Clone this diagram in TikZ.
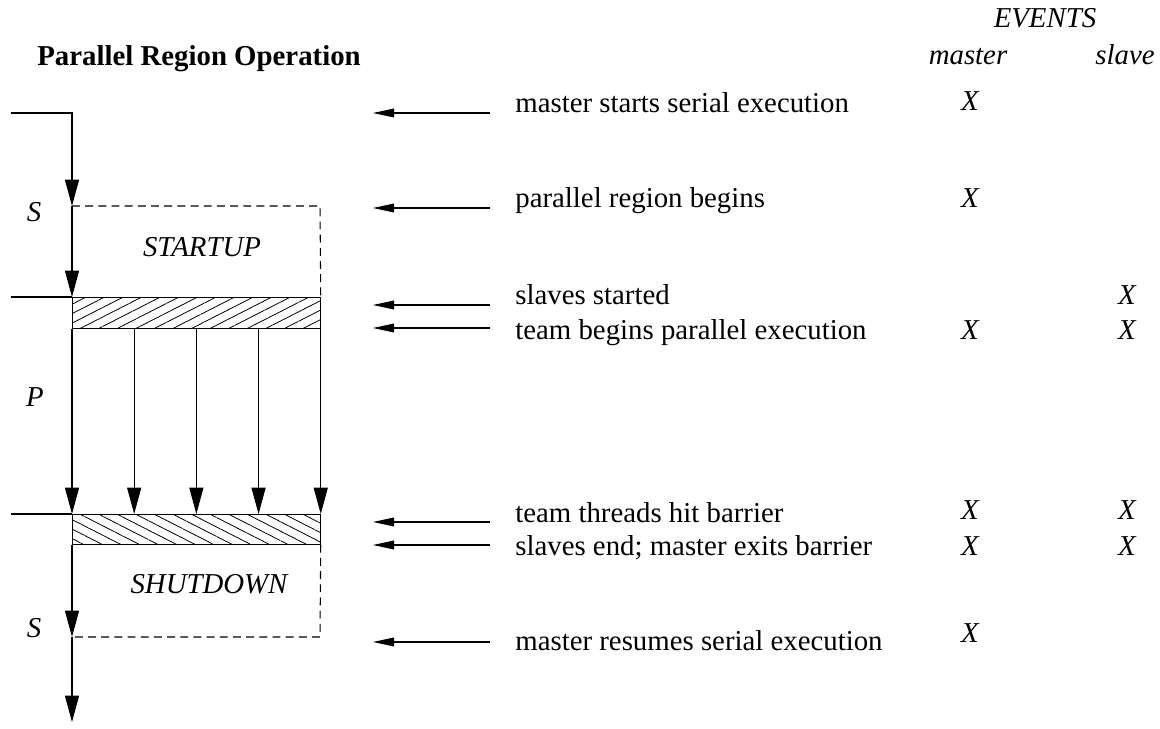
\documentclass[tikz,border=0pt]{standalone}
\usepackage{fontspec}
\setmainfont{Liberation Serif}
\usetikzlibrary{arrows.meta,patterns.meta,calc}

\begin{document}
\begin{tikzpicture}[x=0.02cm, y=-0.02cm,
line/.style={line width=0.6pt},
flow/.style={line width=0.6pt, -{Triangle[length=15pt,width=8pt]}},
event/.style={line width=0.6pt, -{Triangle[length=12pt,width=5pt]}},
region/.style={line width=0.6pt, dash pattern=on 4.5pt off 3pt},
upbar/.style={draw, line width=0.6pt, anchor=north west, inner sep=0pt, minimum width=4.96cm, minimum height=0.62cm, pattern={Lines[angle=27,distance=4.8pt,line width=0.45pt]}},
downbar/.style={draw, line width=0.6pt, anchor=north west, inner sep=0pt, minimum width=4.96cm, minimum height=0.6cm, pattern={Lines[angle=-27,distance=4.8pt,line width=0.45pt]}},
txt/.style={anchor=base west, inner sep=0pt, font=\fontsize{16.4}{19}\selectfont},
cross/.style={anchor=base, inner sep=0pt, font=\fontsize{16.4}{19}\selectfont\itshape},
]
\useasboundingbox (0,0) rectangle (1160,729);

% headings
\node (title) [txt, font=\fontsize{16.4}{19}\selectfont\bfseries] at (37,66) {Parallel Region Operation};
\node (evt) [cross] at (1045,28) {EVENTS};
\node (mst) [cross] at (968,65) {master};
\node (slv) [cross] at (1125,65) {slave};

% the thread picture
\coordinate (in) at (11,113);
\coordinate (c1) at (72,113);
\coordinate (s1) at (72,206);
\coordinate (s1e) at (320,206);
\coordinate (l1) at (11,297);
\coordinate (l2) at (11,514);
\coordinate (s2e) at (320,637);
\coordinate (s2) at (72,637);
\coordinate (out) at (72,722);

\node (bar1) [upbar] at (72,297) {};
\node (bar2) [downbar] at (72,514) {};

\draw[flow] (in) -- (c1) -- (s1);
\draw[flow] (s1) -- (bar1.north west);
\draw[region] (s1) -- (s1e) -- (bar1.north east);
\draw[line] (l1) -- (bar1.north west);
\foreach \i in {0,...,4}
  \draw[flow] ($(bar1.south west)!\i/4!(bar1.south east)$) -- ($(bar2.north west)!\i/4!(bar2.north east)$);
\draw[line] (l2) -- (bar2.north west);
\draw[region] (bar2.south east) -- (s2e) -- (s2);
\draw[flow] (bar2.south west) -- (s2);
\draw[flow] (s2) -- (out);

\node (sa) [cross] at (34,222) {S};
\node (startup) [cross] at (202,257) {STARTUP};
\node (p) [cross] at (35,407) {P};
\node (shutdown) [cross] at (209,593) {SHUTDOWN};
\node (sb) [cross] at (34,637) {S};

% events
\node (e1) [txt] at (515,113) {master starts serial execution};
\node (e2) [txt] at (515,208) {parallel region begins};
\node (e3) [txt] at (515,305) {slaves started};
\node (e4) [txt] at (515,340) {team begins parallel execution};
\node (e5) [txt] at (515,522) {team threads hit barrier};
\node (e6) [txt] at (515,555) {slaves end; master exits barrier};
\node (e7) [txt] at (515,650) {master resumes serial execution};

\coordinate (a1) at (490,113);  \coordinate (t1) at (373,113);
\coordinate (a2) at (490,208);  \coordinate (t2) at (373,208);
\coordinate (a3) at (490,305);  \coordinate (t3) at (373,305);
\coordinate (a4) at (490,328);  \coordinate (t4) at (373,328);
\coordinate (a5) at (490,522);  \coordinate (t5) at (373,522);
\coordinate (a6) at (490,545);  \coordinate (t6) at (373,545);
\coordinate (a7) at (490,642);  \coordinate (t7) at (373,642);
\draw[event] (a1) -- (t1);
\draw[event] (a2) -- (t2);
\draw[event] (a3) -- (t3);
\draw[event] (a4) -- (t4);
\draw[event] (a5) -- (t5);
\draw[event] (a6) -- (t6);
\draw[event] (a7) -- (t7);

% X marks
\node (m1) [cross] at (970,111) {X};
\node (m2) [cross] at (970,208) {X};
\node (m4) [cross] at (970,340) {X};
\node (m5) [cross] at (970,520) {X};
\node (m6) [cross] at (970,555) {X};
\node (m7) [cross] at (970,642) {X};
\node (x3) [cross] at (1127,305) {X};
\node (x4) [cross] at (1127,340) {X};
\node (x5) [cross] at (1127,520) {X};
\node (x6) [cross] at (1127,555) {X};
\end{tikzpicture}
\end{document}
